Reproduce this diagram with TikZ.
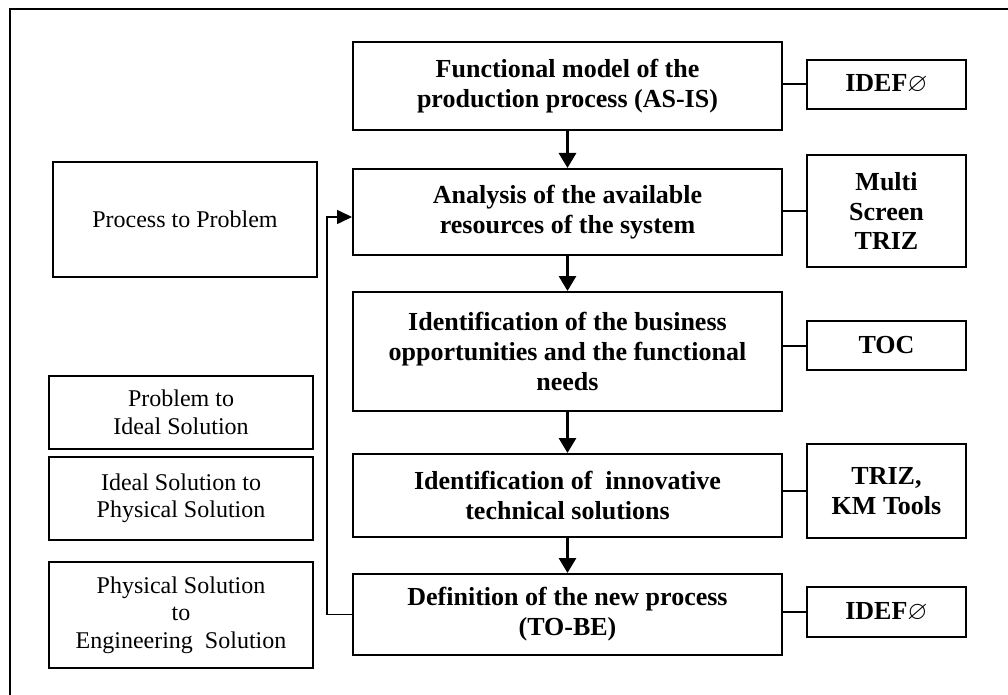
\documentclass[tikz,border=0pt]{standalone}
\usepackage{fontspec}
\usepackage{amssymb}
\setmainfont{Liberation Serif}
\usetikzlibrary{arrows.meta}
\newcommand{\idefnull}{$\varnothing$}
\begin{document}
\begin{tikzpicture}[x=1pt,y=-1pt,
  mainbox/.style={draw,line width=2pt,inner sep=0pt,align=center,minimum width=429pt,
    font=\fontsize{26}{30}\selectfont\bfseries},
  toolbox/.style={draw,line width=2pt,inner sep=0pt,align=center,minimum width=159pt,
    font=\fontsize{26}{29.5}\selectfont\bfseries},
  sidebox/.style={draw,line width=1.8pt,inner sep=0pt,align=center,minimum width=264pt,
    font=\fontsize{24}{27.5}\selectfont},
  flow/.style={line width=3pt,-{Triangle[length=15pt,width=17pt]}},
  link/.style={line width=2pt},
  feedback/.style={line width=1.6pt,-{Triangle[length=15pt,width=14pt]}},
  frameline/.style={line width=2pt}
]
\useasboundingbox (0,0) rectangle (1008,695);
% frame
\coordinate (ftr) at (1008,9);
\coordinate (ftl) at (10,9);
\coordinate (fbl) at (10,695);
\draw[frameline] (ftr) -- (ftl) -- (fbl);

% main column
\node[mainbox,minimum height=88pt] (b1) at (567.5,86) {Functional model of the\\production process (AS-IS)};
\node[mainbox,minimum height=86pt] (b2) at (567.5,212) {Analysis of the available\\resources of the system};
\node[mainbox,minimum height=119pt] (b3) at (567.5,351.5) {Identification of the business\\opportunities and the functional\\needs};
\node[mainbox,minimum height=83pt] (b4) at (567.5,495.5) {Identification of~ innovative\\technical solutions};
\node[mainbox,minimum height=81pt] (b5) at (567.5,614.5) {Definition of the new process\\(TO-BE)};

% tool boxes
\node[toolbox,minimum height=49pt] (r1) at (886.5,84.5) {IDEF\idefnull};
\node[toolbox,minimum height=112pt] (r2) at (886.5,211) {Multi\\Screen\\TRIZ};
\node[toolbox,minimum height=49pt] (r3) at (886.5,345.5) {TOC};
\node[toolbox,minimum height=94pt] (r4) at (886.5,491) {TRIZ,\\KM Tools};
\node[toolbox,minimum height=50pt] (r5) at (886.5,612) {IDEF\idefnull};

% side boxes
\node[sidebox,minimum height=115pt] (l0) at (185,219.5) {Process to Problem};
\node[sidebox,minimum height=73pt] (l1) at (181,412.5) {Problem to\\Ideal Solution};
\node[sidebox,minimum height=83pt] (l2) at (181,498.5) {Ideal Solution to\\Physical Solution};
\node[sidebox,minimum height=106pt] (l3) at (181,615) {Physical Solution\\to\\Engineering~ Solution};

% flow arrows
\draw[flow] (b1) -- (b2);
\draw[flow] (b2) -- (b3);
\draw[flow] (b3) -- (b4);
\draw[flow] (b4) -- (b5);

% tool links
\draw[link] (r1.west) -- (r1.west -| b1.east);
\draw[link] (r2.west) -- (r2.west -| b2.east);
\draw[link] (r3.west) -- (r3.west -| b3.east);
\draw[link] (r4.west) -- (r4.west -| b4.east);
\draw[link] (r5.west) -- (r5.west -| b5.east);

% feedback
\coordinate (fbtop) at (327,217);
\draw[feedback] (b5.west) -| (fbtop) -- (fbtop -| b2.west);
\end{tikzpicture}
\end{document}
